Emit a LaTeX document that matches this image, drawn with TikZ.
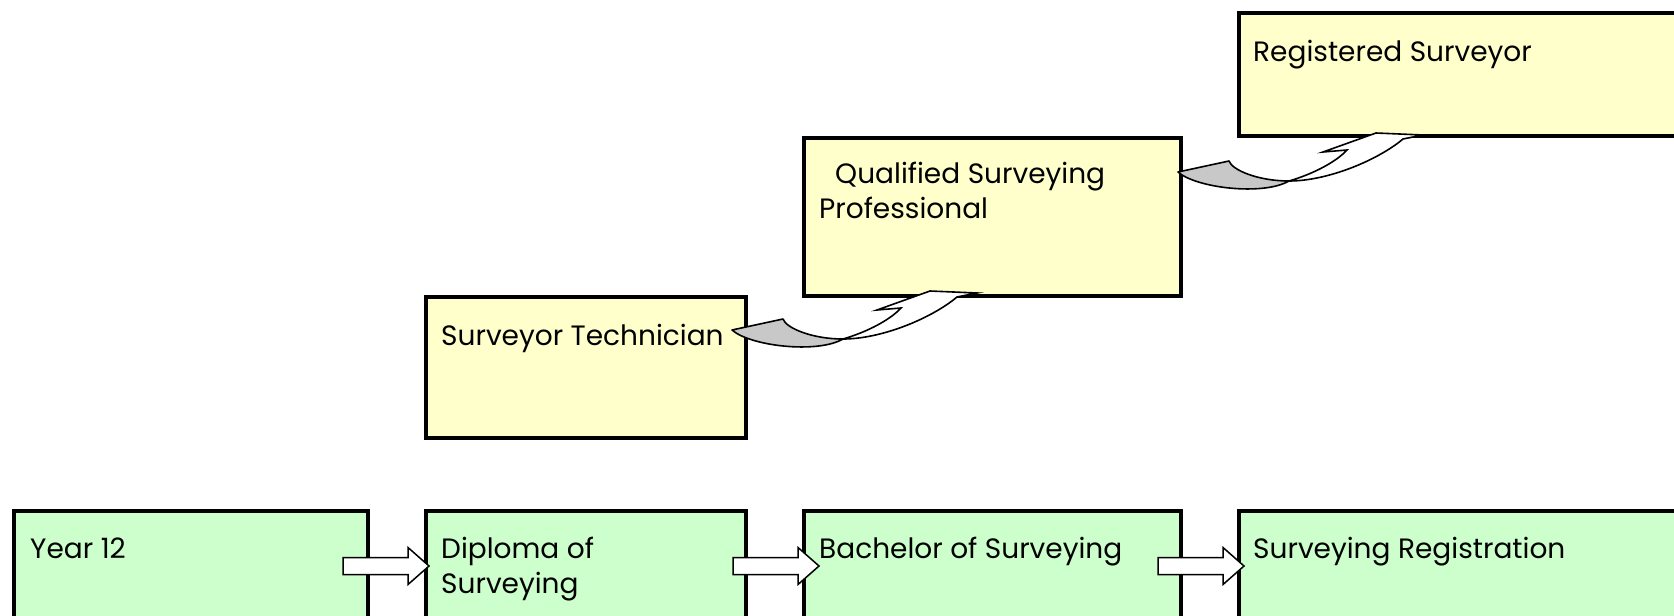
\documentclass[tikz,border=0pt]{standalone}
\usepackage{fontspec}
\setmainfont{Poppins}
\usetikzlibrary{calc}
\definecolor{boxgreen}{RGB}{204,255,204}
\definecolor{boxyellow}{RGB}{255,255,204}
\definecolor{tailgray}{RGB}{200,200,200}
\tikzset{
  % curved up-arrow: gray twisted tail, white ribbon and head
  curvedup/.pic={
    \filldraw[fill=tailgray, draw=black, line width=1.6pt, line join=round]
      (0,0) -- (51,-11) .. controls (54,-2) and (80,9) .. (111,9)
      .. controls (85,24) and (18,16) .. cycle;
    \filldraw[fill=white, draw=black, line width=1.6pt, line join=miter]
      (111,9) .. controls (135,2) and (158,-10) .. (169,-22)
      -- (145,-20) -- (198,-39) -- (245,-37) -- (225,-33)
      .. controls (200,-12) and (150,9) .. cycle;
  },
  % block arrow, origin at its tip
  blockarrow/.pic={
    \filldraw[fill=white, draw=black, line width=1.5pt, line join=miter]
      (0,0) -- (-21,-18.5) -- (-21,-8.5) -- (-86,-8.5) -- (-86,8.5)
      -- (-21,8.5) -- (-21,18.5) -- cycle;
  }
}
\begin{document}
\begin{tikzpicture}[x=1pt,y=-1pt,
  box/.style={draw=black, line width=3.2pt, inner sep=0pt, outer sep=0pt, anchor=north west},
  greenbox/.style={box, fill=boxgreen},
  yellowbox/.style={box, fill=boxyellow},
  txt/.style={anchor=base west, inner sep=0pt, font=\fontsize{28}{36}\selectfont}
]
\useasboundingbox (0,0) rectangle (1674,616);
\clip (0,0) rectangle (1674,616);

% study pathway (bottom row)
\node[greenbox, minimum width=354pt, minimum height=140pt] (y12)  at (14,511)   {};
\node[greenbox, minimum width=320pt, minimum height=140pt] (dip)  at (426,511)  {};
\node[greenbox, minimum width=377pt, minimum height=140pt] (bach) at (804,511)  {};
\node[greenbox, minimum width=500pt, minimum height=140pt] (sreg) at (1239,511) {};

% career steps
\node[yellowbox, minimum width=320pt, minimum height=141pt] (tech) at (426,297)  {};
\node[yellowbox, minimum width=377pt, minimum height=158pt] (qsp)  at (804,138)  {};
\node[yellowbox, minimum width=500pt, minimum height=123pt] (rs)   at (1239,13)  {};

% labels
\node[txt] (ty12)  at ($(y12.north west)+(16,47)$)  {Year 12};
\node[txt] (tdip1) at ($(dip.north west)+(15,47)$)  {Diploma of};
\node[txt] (tdip2) at ($(dip.north west)+(15,82)$)  {Surveying};
\node[txt] (tbach) at ($(bach.north west)+(15,47)$) {Bachelor of Surveying};
\node[txt] (tsreg) at ($(sreg.north west)+(14,47)$) {Surveying Registration};
\node[txt] (ttech) at ($(tech.north west)+(15,48)$) {Surveyor Technician};
\node[txt] (tqsp1) at ($(qsp.north west)+(31,45)$)  {Qualified Surveying};
\node[txt] (tqsp2) at ($(qsp.north west)+(15,80)$)  {Professional};
\node[txt] (trs)   at ($(rs.north west)+(14,48)$)   {Registered Surveyor};

% block arrows between study steps
\pic at ($(dip.north west)+(3,55)$)   {blockarrow};
\pic at ($(bach.north west)+(15,55)$) {blockarrow};
\pic at ($(sreg.north west)+(5,55)$)  {blockarrow};

% curved arrows up the career steps
\pic at ($(tech.north east)+(-14,33)$) {curvedup};
\pic at ($(qsp.north east)+(-3,34)$)   {curvedup};
\end{tikzpicture}
\end{document}
